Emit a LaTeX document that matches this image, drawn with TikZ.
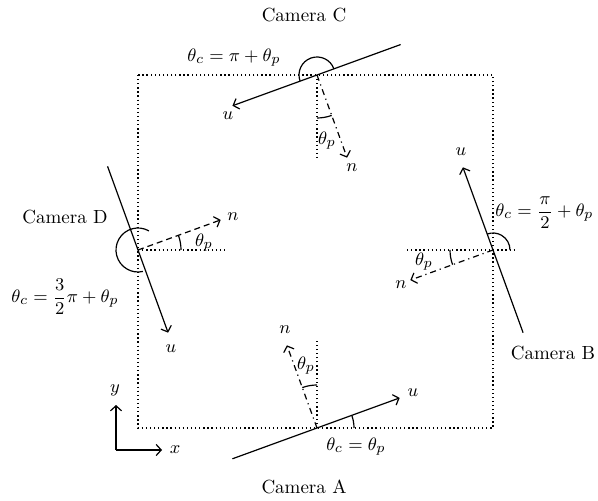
\documentclass[tikz,border=0pt]{standalone}
\usepackage{amsmath}
\usetikzlibrary{arrows.meta,calc}
\begin{document}
\begin{tikzpicture}[x=0.5pt,y=0.5pt,
  every node/.style={font=\fontsize{9.5}{11.5}\selectfont, inner sep=1pt},
  tip/.style={-{Straight Barb[length=2.5pt,width=5.5pt]}},
  cam/.style={line width=0.6pt, tip},
  normdd/.style={line width=0.6pt, dash pattern=on 3pt off 2pt on 0.6pt off 2pt, tip},
  normd/.style={line width=0.6pt, dash pattern=on 3pt off 2pt, tip},
  dots/.style={line width=0.65pt, dash pattern=on 0.65pt off 1.4pt},
  angarc/.style={line width=0.6pt}]
\useasboundingbox (0,0) rectangle (598,-501);

% centres
\coordinate (A) at (317,-428);
\coordinate (B) at (493,-250);
\coordinate (C) at (317,-75);
\coordinate (D) at (138,-250);

% dotted square
\coordinate (sqTL) at (138,-75);
\coordinate (sqBR) at (493,-428);
\draw[dots] (sqTL) rectangle (sqBR);

% ---------- Camera A ----------
\coordinate (Aend) at ($(A)+(200:90)$);
\coordinate (Atip) at ($(A)+(20:88)$);
\coordinate (An) at ($(A)+(110:88)$);
\coordinate (Aref) at ($(A)+(90:88)$);
\draw[cam] (Aend) -- (Atip);
\draw[dots] (A) -- (Aref);
\draw[normdd] (A) -- (An);
\draw[angarc] ($(A)+(90:43)$) arc[start angle=90, end angle=110, radius=21.5pt];
\draw[angarc] ($(A)+(0:37)$) arc[start angle=0, end angle=20, radius=18.5pt];
\node (uA) at (413,-393) {$u$};
\node (nA) at (285,-330) {$n$};
\node (tpA) at (306,-366) {$\theta_p$};
\node (tcA) at (356,-447) {$\theta_c = \theta_p$};
\node (camA) at (304,-487) {Camera A};

% ---------- Camera B ----------
\coordinate (Bend) at ($(B)+(290:88)$);
\coordinate (Btip) at ($(B)+(110:88)$);
\coordinate (Bn) at ($(B)+(200:88)$);
\coordinate (BrefL) at ($(B)+(180:86)$);
\coordinate (BrefR) at ($(B)+(0:24)$);
\draw[cam] (Bend) -- (Btip);
\draw[dots] (BrefL) -- (BrefR);
\draw[normdd] (B) -- (Bn);
\draw[angarc] ($(B)+(180:43)$) arc[start angle=180, end angle=200, radius=21.5pt];
\draw[angarc] ($(B)+(0:17)$) arc[start angle=0, end angle=110, radius=8.5pt];
\node (uB) at (461,-152) {$u$};
\node (nB) at (401,-285) {$n$};
\node (tpB) at (424,-262) {$\theta_p$};
\node[anchor=west] (tcB) at (493,-213) {$\theta_c = \dfrac{\pi}{2} + \theta_p$};
\node (camB) at (553,-353) {Camera B};

% ---------- Camera C ----------
\coordinate (Cend) at ($(C)+(20:89)$);
\coordinate (Ctip) at ($(C)+(200:90)$);
\coordinate (Cn) at ($(C)+(290:88)$);
\coordinate (Cref) at ($(C)+(270:83)$);
\draw[cam] (Cend) -- (Ctip);
\draw[dots] (C) -- (Cref);
\draw[normdd] (C) -- (Cn);
\draw[angarc] ($(C)+(270:43)$) arc[start angle=270, end angle=290, radius=21.5pt];
\draw[angarc] ($(C)+(20:18)$) arc[start angle=20, end angle=200, radius=9pt];
\node (uC) at (228,-116) {$u$};
\node (nC) at (352,-168) {$n$};
\node (tpC) at (327,-141) {$\theta_p$};
\node (tcC) at (234,-58) {$\theta_c = \pi + \theta_p$};
\node (camC) at (304,-15) {Camera C};

% ---------- Camera D ----------
\coordinate (Dend) at ($(D)+(110:89)$);
\coordinate (Dtip) at ($(D)+(290:88)$);
\coordinate (Dn) at ($(D)+(20:88)$);
\coordinate (Dref) at ($(D)+(0:88)$);
\draw[cam] (Dend) -- (Dtip);
\draw[dots] (D) -- (Dref);
\draw[normd] (D) -- (Dn);
\draw[angarc] ($(D)+(0:43)$) arc[start angle=0, end angle=20, radius=21.5pt];
\draw[angarc] ($(D)+(60:22)$) arc[start angle=60, end angle=283, radius=11pt];
\node (uD) at (171,-349) {$u$};
\node (nD) at (233,-217) {$n$};
\node (tpD) at (204,-243) {$\theta_p$};
\node (tcD) at (65,-297) {$\theta_c = \dfrac{3}{2}\pi + \theta_p$};
\node (camD) at (65,-217) {Camera D};

% ---------- axes ----------
\coordinate (O) at (116,-450);
\coordinate (Oy) at (116,-405);
\coordinate (Ox) at (162,-450);
\draw[line width=0.6pt, tip] (O) -- (Oy);
\draw[line width=0.6pt, tip] (O) -- (Ox);
\node (ly) at (115,-390) {$y$};
\node (lx) at (175,-450) {$x$};
\end{tikzpicture}
\end{document}
